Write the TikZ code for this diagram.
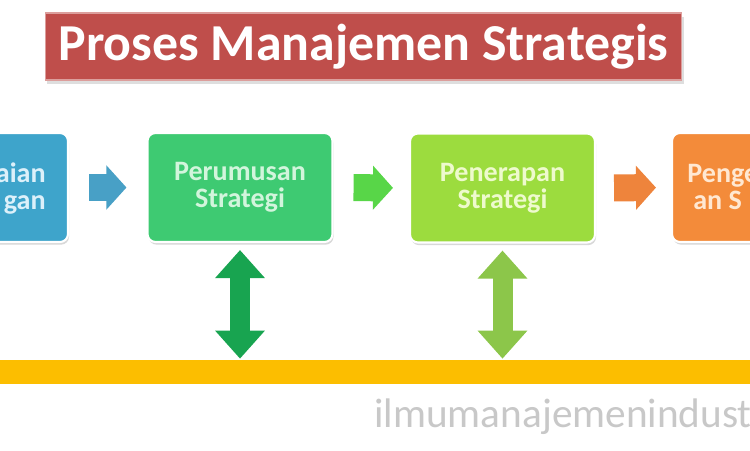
\documentclass[tikz,border=0pt]{standalone}
\usepackage{fontspec}
\setmainfont{Carlito}
\usetikzlibrary{arrows.meta,shadows}

\definecolor{titlered}{RGB}{191,78,75}
\definecolor{boxblue}{RGB}{62,164,203}
\definecolor{boxgreen}{RGB}{62,202,114}
\definecolor{boxlime}{RGB}{156,220,62}
\definecolor{boxorange}{RGB}{243,139,58}
\definecolor{arrowblue}{RGB}{72,160,198}
\definecolor{arrowgreen}{RGB}{88,214,72}
\definecolor{arroworange}{RGB}{238,132,60}
\definecolor{linkgreen}{RGB}{24,164,80}
\definecolor{linklime}{RGB}{140,198,74}
\definecolor{baryellow}{RGB}{252,190,0}
\definecolor{markgray}{RGB}{200,200,200}
\definecolor{textblue}{RGB}{220,240,250}
\definecolor{textgreen}{RGB}{210,245,220}
\definecolor{textlime}{RGB}{238,250,205}
\definecolor{textorange}{RGB}{255,232,210}

\tikzset{
  stagebox/.style = {draw=white, line width=1.2pt, rounded corners=4.5pt,
    minimum width=3.7cm, minimum height=2.18cm, align=center,
    font=\bfseries\fontsize{16}{15.5}\selectfont,
    drop shadow={shadow xshift=0.6pt, shadow yshift=-1.5pt, fill=black!30}},
  stagetext/.style = {font=\bfseries\fontsize{16}{15.5}\selectfont, inner sep=0pt},
  flow/.style = {line width=0.54cm, -{Triangle[length=0.4cm, width=0.86cm]}},
  link/.style = {line width=0.4cm, {Triangle[length=0.56cm, width=0.96cm]}-{Triangle[length=0.56cm, width=0.96cm]}}
}

\begin{document}
\begin{tikzpicture}[x=0.02cm, y=-0.02cm]
\useasboundingbox (0,0) rectangle (750,450);
\fill[white] (0,0) rectangle (750,450);
\clip (0,0) rectangle (750,450);
% title
\node[fill=titlered, draw=titlered!55!white, line width=0.6pt, minimum width=12.74cm, minimum height=1.34cm,
  text=white, font=\bfseries\fontsize{29.5}{31}\selectfont,
  drop shadow={shadow xshift=1pt, shadow yshift=-2.5pt, fill=black!25}] (title) at (363.5,46.5) {Proses Manajemen Strategis};
% stages
\node[stagebox, fill=boxblue] (assess) at (-24.5,187.5) {};
\node[stagebox, fill=boxgreen, text=textgreen] (formulate) at (240,187.5) {Perumusan\\Strategi};
\node[stagebox, fill=boxlime, text=textlime] (apply) at (502.5,188) {Penerapan\\Strategi};
\node[stagebox, fill=boxorange] (control) at (764.5,187.5) {};
\node[stagetext, text=textblue, anchor=base east] (assessA) at (46,182) {aian};
\node[stagetext, text=textblue, anchor=base east] (assessB) at (46,209) {gan};
\node[stagetext, text=textorange, anchor=base west] (controlA) at (687,182) {Penge};
\node[stagetext, text=textorange, anchor=base west] (controlB) at (693,209) {an S};
% flow arrows
\draw[flow, arrowblue, shorten <=0.4cm, shorten >=0.4cm] (assess.east) -- (formulate.west);
\draw[flow, arrowgreen, shorten <=0.4cm, shorten >=0.32cm] (formulate.east) -- (apply.west);
\draw[flow, arroworange, shorten <=0.36cm, shorten >=0.3cm] (apply.east) -- (control.west);
% base bar
\node[fill=baryellow, minimum width=15.2cm, minimum height=0.48cm, inner sep=0pt] (bar) at (375,372) {};
\draw[link, linkgreen, shorten <=0.14cm, shorten >=0.02cm] (formulate.south) -- (formulate.south |- bar.north);
\draw[link, linklime, shorten <=0.14cm, shorten >=0.02cm] (apply.south) -- (apply.south |- bar.north);
% watermark
\node[anchor=base west, inner sep=0pt, text=markgray, font=\fontsize{23.5}{25}\selectfont] (mark) at (374,427) {ilmumanajemenindustri};
\end{tikzpicture}
\end{document}
